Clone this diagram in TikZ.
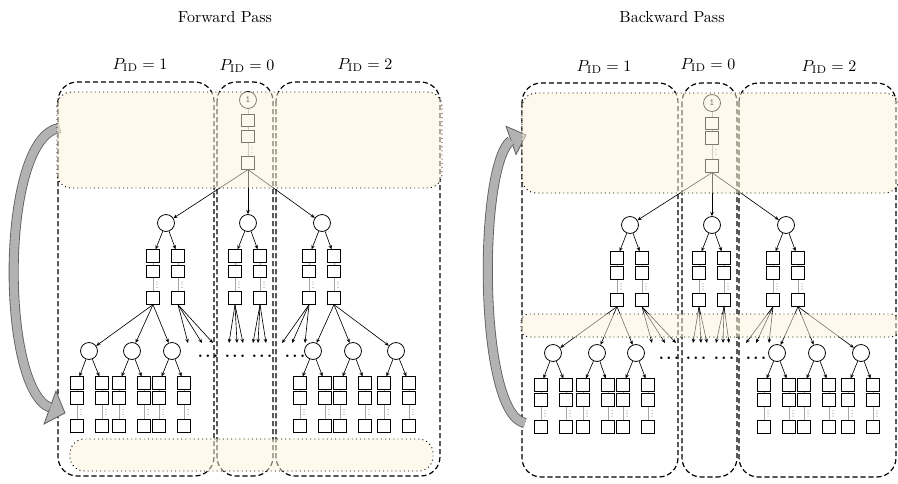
\documentclass[tikz,border=0pt]{standalone}
\usetikzlibrary{arrows.meta,calc}
\definecolor{cream}{RGB}{253,243,217}
\definecolor{arrowfill}{RGB}{178,178,178}
\definecolor{arrowline}{RGB}{95,95,95}
\newcommand\mkcol[5]{%
  \node[sq] (#1a) at (#2,#3) {};
  \node[sq] (#1b) at (#2,#4) {};
  \node[sq] (#1c) at (#2,#5) {};
  \draw[link] (#1a) -- (#1b);
  \draw[link] (#1b) -- (#1c);
  \coordinate (#1m) at ($(#1b.south)!0.5!(#1c.north)$);
  \foreach \k in {-2.6,0,2.6}{\fill[black!75] ([shift={(4,\k)}]#1m) circle (0.3pt);}%
}
\newcommand\hdotsat[3]{\node[hd] (#1) at (#2,#3) {.\hspace{1.6pt}.\hspace{1.6pt}.};}
\begin{document}
\begin{tikzpicture}[x=0.625pt,y=-0.625pt,
  sq/.style={draw, line width=0.5pt, minimum size=7.8pt, inner sep=0pt},
  cir/.style={draw, circle, line width=0.5pt, minimum size=10.6pt, inner sep=0pt},
  link/.style={draw=black!35, line width=0.5pt},
  edge/.style={-{Stealth[length=2.6pt,width=2.2pt]}, line width=0.4pt},
  part/.style={draw, line width=0.75pt, dash pattern=on 3.2pt off 1.8pt, rounded corners=12pt},
  band/.style={draw, dotted, line width=0.6pt, fill=cream, fill opacity=0.5, rounded corners=9pt},
  hd/.style={font=\bfseries, inner sep=0pt},
  lbl/.style={font=\normalsize, inner sep=0pt},
  one/.style={cir, font=\fontsize{6}{6}\selectfont\ttfamily}]

\clip (0,0) rectangle (898,483);

% ---------------- partitions ----------------
\draw[part] (58,82) rectangle (214,476);
\draw[part] (217,82) rectangle (273,476);
\draw[part] (276,82) rectangle (440,476);
\draw[part] (522,83) rectangle (678,477);
\draw[part] (682,83) rectangle (737,477);
\draw[part] (739,83) rectangle (896,477);

% ================= FORWARD =================
\node[one] (Fr) at (248,100) {1};
\mkcol{Fr}{248}{120.5}{136.5}{163}
\draw[link] (Fr) -- (Fra);
\node[cir] (Fx1) at (166,223) {};
\node[cir] (Fx2) at (248,223) {};
\node[cir] (Fx3) at (322,223) {};
\foreach \t in {Fx1,Fx2,Fx3} \draw[edge] (Frc.south) -- (\t);
\mkcol{FA1}{153}{256}{271.5}{298}
\mkcol{FA2}{178}{256}{271.5}{298}
\mkcol{FB1}{235}{256}{271.5}{298}
\mkcol{FB2}{260}{256}{271.5}{298}
\mkcol{FC1}{309}{256}{271.5}{298}
\mkcol{FC2}{334}{256}{271.5}{298}
\draw[edge] (Fx1) -- (FA1a); \draw[edge] (Fx1) -- (FA2a);
\draw[edge] (Fx2) -- (FB1a); \draw[edge] (Fx2) -- (FB2a);
\draw[edge] (Fx3) -- (FC1a); \draw[edge] (Fx3) -- (FC2a);

\foreach \i/\cx/\a/\b in {1/89/77/102, 2/132/119/144, 3/172/159/184, 4/313/300/325, 5/353/340/365, 6/396/384/409}{
  \node[cir] (Fy\i) at (\cx,351) {};
  \mkcol{Fzl\i}{\a}{383}{398}{426}
  \mkcol{Fzr\i}{\b}{383}{398}{426}
  \draw[edge] (Fy\i) -- (Fzl\i a);
  \draw[edge] (Fy\i) -- (Fzr\i a);
}
\foreach \t in {Fy1,Fy2,Fy3} \draw[edge] (FA1c.south) -- (\t);
\foreach \t in {Fy4,Fy5,Fy6} \draw[edge] (FC2c.south) -- (\t);
\foreach \n/\px/\s in {a1/188/FA2c, a2/202/FA2c, a3/213/FA2c,
                      b1/229/FB1c, b2/237/FB1c, b3/243/FB1c,
                      c1/253/FB2c, c2/258/FB2c, c3/266/FB2c,
                      d1/282/FC1c, d2/292/FC1c, d3/305/FC1c}{
  \coordinate (Fe\n) at (\px,343);
  \draw[edge] (\s.south) -- (Fe\n);
}
\hdotsat{Fd1}{208}{356}
\hdotsat{Fd2}{235}{356}
\hdotsat{Fd3}{262}{356}
\hdotsat{Fd4}{295}{356}

% ================= BACKWARD =================
\node[one] (Br) at (712,103) {1};
\mkcol{Br}{712}{123.5}{138}{166}
\draw[link] (Br) -- (Bra);
\node[cir] (Bx1) at (630,225) {};
\node[cir] (Bx2) at (712,225) {};
\node[cir] (Bx3) at (786,225) {};
\foreach \t in {Bx1,Bx2,Bx3} \draw[edge] (Brc.south) -- (\t);
\mkcol{BA1}{617}{258}{273}{300}
\mkcol{BA2}{642}{258}{273}{300}
\mkcol{BB1}{699}{258}{273}{300}
\mkcol{BB2}{724}{258}{273}{300}
\mkcol{BC1}{773}{258}{273}{300}
\mkcol{BC2}{798}{258}{273}{300}
\draw[edge] (Bx1) -- (BA1a); \draw[edge] (Bx1) -- (BA2a);
\draw[edge] (Bx2) -- (BB1a); \draw[edge] (Bx2) -- (BB2a);
\draw[edge] (Bx3) -- (BC1a); \draw[edge] (Bx3) -- (BC2a);

\foreach \i/\cx/\a/\b in {1/553/541/566, 2/597/583/608, 3/636/623/648, 4/777/764/789, 5/817/804/829, 6/861/848/873}{
  \node[cir] (By\i) at (\cx,353) {};
  \mkcol{Bzl\i}{\a}{385}{400}{427}
  \mkcol{Bzr\i}{\b}{385}{400}{427}
  \draw[edge] (By\i) -- (Bzl\i a);
  \draw[edge] (By\i) -- (Bzr\i a);
}
\foreach \t in {By1,By2,By3} \draw[edge] (BA1c.south) -- (\t);
\foreach \t in {By4,By5,By6} \draw[edge] (BC2c.south) -- (\t);
\foreach \n/\px/\s in {a1/652/BA2c, a2/665/BA2c, a3/676/BA2c,
                      b1/693/BB1c, b2/701/BB1c, b3/707/BB1c,
                      c1/716/BB2c, c2/723/BB2c, c3/729/BB2c,
                      d1/746/BC1c, d2/756/BC1c, d3/769/BC1c}{
  \coordinate (Be\n) at (\px,343);
  \draw[edge] (\s.south) -- (Be\n);
}
\hdotsat{Bd1}{669}{358}
\hdotsat{Bd2}{696}{358}
\hdotsat{Bd3}{724}{358}
\hdotsat{Bd4}{756}{358}

% ================= big curved arrows =================
\filldraw[fill=arrowfill, draw=arrowline, line width=0.5pt] (44,424) -- (65,413) -- (56,391) -- cycle;
\draw[arrowline, line width=6.25pt] (60,128) .. controls (0,135) and (0,388) .. (50,407.6);
\draw[arrowfill, line width=5.2pt] (60,128) .. controls (0,135) and (0,388) .. (50,407.6);

\filldraw[fill=arrowfill, draw=arrowline, line width=0.5pt] (516,154.5) -- (526,135) -- (506,126.3) -- cycle;
\draw[arrowline, line width=6.25pt] (525,423) .. controls (478,415) and (478,165) .. (511,140.4);
\draw[arrowfill, line width=5.2pt] (525,423) .. controls (478,415) and (478,165) .. (511,140.4);

% ================= highlighted bands =================
\draw[band] (57,92) rectangle (442,188);
\draw[band] (70,439) rectangle (433,471);
\draw[band] (522,93) rectangle (899,193);
\draw[band, rounded corners=5pt] (521,314) rectangle (899,337);

% ================= labels =================
\node[lbl] (tF) at (225,17) {Forward Pass};
\node[lbl] (tB) at (672,17) {Backward Pass};
\node[lbl] (lF1) at (140,65) {$P_{\mathrm{ID}}=1$};
\node[lbl] (lF0) at (247,66) {$P_{\mathrm{ID}}=0$};
\node[lbl] (lF2) at (365,65) {$P_{\mathrm{ID}}=2$};
\node[lbl] (lB1) at (604,67) {$P_{\mathrm{ID}}=1$};
\node[lbl] (lB0) at (708,65) {$P_{\mathrm{ID}}=0$};
\node[lbl] (lB2) at (829,67) {$P_{\mathrm{ID}}=2$};
\end{tikzpicture}
\end{document}
